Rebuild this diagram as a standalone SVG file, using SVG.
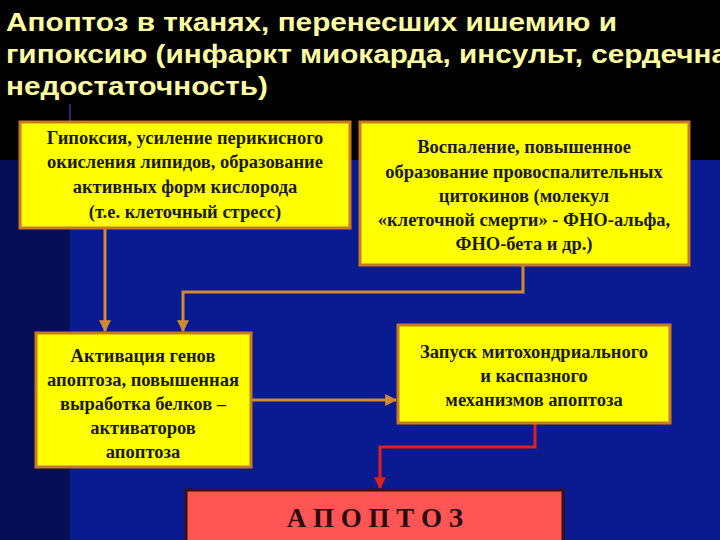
<svg xmlns="http://www.w3.org/2000/svg" width="720" height="540" viewBox="0 0 720 540">
<defs>
<marker id="ao" viewBox="0 0 10 10" refX="9" refY="5" markerWidth="4" markerHeight="4" orient="auto"><path d="M0,0L10,5L0,10z" fill="#d08a30"/></marker>
<marker id="ar" viewBox="0 0 10 10" refX="9" refY="5" markerWidth="4" markerHeight="4" orient="auto"><path d="M0,0L10,5L0,10z" fill="#e02020"/></marker>
</defs>
<style>
.b{fill:#ffff00;stroke:#c87a28;stroke-width:3}
.t{font-family:"Liberation Serif",serif;font-weight:bold;font-size:18.5px;fill:#1a1a1a;text-anchor:middle}
.h{font-family:"Liberation Sans",sans-serif;font-weight:bold;font-size:26px;fill:#ffffa0}
.c{fill:none;stroke:#d08a30;stroke-width:3}
</style>
<rect width="720" height="540" fill="#0a1a90"/>
<rect width="70" height="540" fill="#060e55"/>
<rect width="720" height="160" fill="#000"/>
<text class="h" x="6" y="31" textLength="611" lengthAdjust="spacingAndGlyphs">Апоптоз в тканях, перенесших ишемию и</text>
<text class="h" x="6" y="63" textLength="722" lengthAdjust="spacingAndGlyphs">гипоксию (инфаркт миокарда, инсульт, сердечна</text>
<text class="h" x="6" y="95" textLength="262" lengthAdjust="spacingAndGlyphs">недостаточность)</text>
<line x1="70" y1="104" x2="70" y2="121" stroke="#3a6acc" stroke-width="1"/>
<g id="connectors">
<path class="c" d="M105,229V331" marker-end="url(#ao)"/>
<path class="c" d="M523,266V292H183V331" marker-end="url(#ao)"/>
<path class="c" d="M251,400H396" marker-end="url(#ao)"/>
<path d="M535,424V447H380V488" fill="none" stroke="#e02020" stroke-width="3" marker-end="url(#ar)"/>
</g>
<g id="n1"><rect class="b" x="20" y="122" width="330" height="106"/>
<text class="t" x="185" y="144">Гипоксия, усиление перикисного</text>
<text class="t" x="185" y="168">окисления липидов, образование</text>
<text class="t" x="185" y="193">активных форм кислорода</text>
<text class="t" x="185" y="218">(т.е. клеточный стресс)</text></g>
<g id="n2"><rect class="b" x="360" y="122" width="329" height="143"/>
<text class="t" x="524" y="153">Воспаление, повышенное</text>
<text class="t" x="524" y="178">образование провоспалительных</text>
<text class="t" x="524" y="202">цитокинов (молекул</text>
<text class="t" x="524" y="226">«клеточной смерти» - ФНО-альфа,</text>
<text class="t" x="524" y="250">ФНО-бета и др.)</text></g>
<g id="n3"><rect class="b" x="36" y="333" width="215" height="134"/>
<text class="t" x="143" y="362">Активация генов</text>
<text class="t" x="143" y="386">апоптоза, повышенная</text>
<text class="t" x="143" y="410">выработка белков –</text>
<text class="t" x="143" y="434">активаторов</text>
<text class="t" x="143" y="458">апоптоза</text></g>
<g id="n4"><rect class="b" x="398" y="325" width="272" height="98"/>
<text class="t" x="534" y="358">Запуск митохондриального</text>
<text class="t" x="534" y="382">и каспазного</text>
<text class="t" x="534" y="406">механизмов апоптоза</text></g>
<g id="n5"><rect x="186" y="490" width="377" height="60" fill="#ff5555" stroke="#3a1010" stroke-width="3"/>
<text x="375" y="527" font-family="Liberation Serif,serif" font-weight="bold" font-size="27" fill="#2a0a0a" text-anchor="middle" letter-spacing="0">А П О П Т О З</text></g>
</svg>
